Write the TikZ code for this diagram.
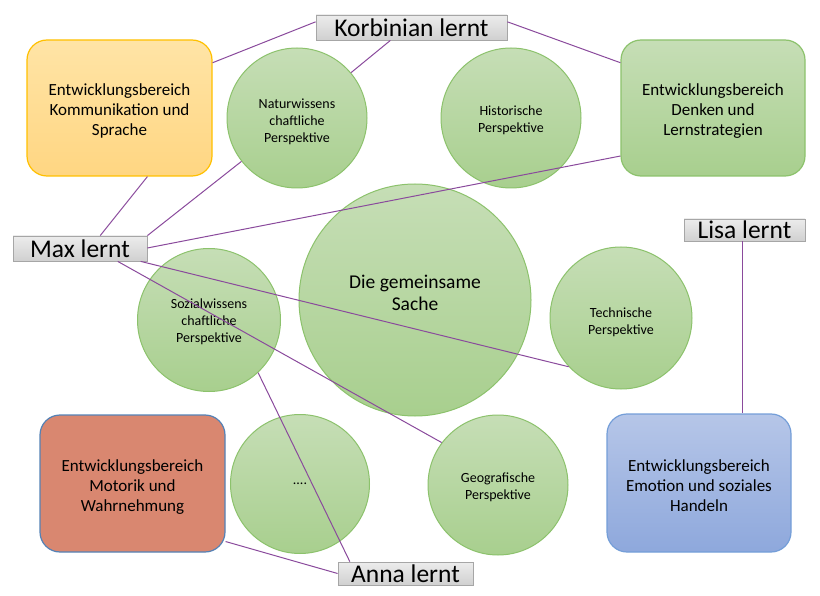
\documentclass[tikz,border=0pt]{standalone}
\usepackage{fontspec}
\setmainfont{Carlito}
\usetikzlibrary{calc}
\definecolor{lnk}{HTML}{8A4A9C}
\definecolor{gtop}{HTML}{C6DEB6}
\definecolor{gbot}{HTML}{A8CF8E}
\definecolor{gbrd}{HTML}{8CC26C}
\newcommand\mytxt[2][0pt]{\raisebox{-#1}[\height][\depth]{\begin{tabular}{@{}c@{}}#2\end{tabular}}}
\tikzset{
  pers/.style={circle, draw=gbrd, line width=1pt, top color=gtop, bottom color=gbot, align=center, inner sep=0pt, font=\fontsize{14}{17}\selectfont},
  bereich/.style={rounded corners=20pt, line width=1.2pt, minimum width=185pt, minimum height=136pt, inner sep=0pt, font=\fontsize{17}{20}\selectfont},
  lernt/.style={draw={rgb,255:red,166;green,166;blue,166}, line width=0.8pt, top color={rgb,255:red,236;green,236;blue,236}, bottom color={rgb,255:red,208;green,208;blue,208}, inner sep=0pt, minimum height=24pt, font=\fontsize{25.5}{26}\selectfont},
  link/.style={draw=lnk, line width=1pt}
}
\begin{document}
\begin{tikzpicture}[x=1pt,y=-1pt]
\useasboundingbox (0,0) rectangle (820,596);
% perspectives
\node[pers, minimum size=140pt] (natur) at (297,118) {\mytxt[4.5pt]{Naturwissens\\chaftliche\\Perspektive}};
\node[pers, minimum size=140pt] (hist) at (511,118) {\mytxt[3pt]{Historische\\Perspektive}};
\node[pers, minimum size=232pt, font=\fontsize{19.5}{22}\selectfont, text depth=14pt] (sache) at (415,300) {Die gemeinsame\\Sache};
\node[pers, minimum size=142pt] (tech) at (621,318) {\mytxt[4.5pt]{Technische\\Perspektive}};
\node[pers, minimum size=143pt] (sozial) at (209,320) {\mytxt[2pt]{Sozialwissens\\chaftliche\\Perspektive}};
\node[pers, minimum size=139pt] (dots) at (300,484) {....};
\node[pers, minimum size=140pt] (geo) at (498,485) {\mytxt[3pt]{Geografische\\Perspektive}};
% Entwicklungsbereiche
\node[bereich, draw={rgb,255:red,255;green,192;blue,0}, top color={rgb,255:red,255;green,228;blue,166}, bottom color={rgb,255:red,255;green,214;blue,130}] (komm) at (119.5,108) {\mytxt[4pt]{Entwicklungsbereich\\Kommunikation und\\Sprache}};
\node[bereich, minimum width=184pt, draw=gbrd, top color=gtop, bottom color=gbot] (denken) at (713,108) {\mytxt[4pt]{Entwicklungsbereich\\Denken und\\Lernstrategien}};
\node[bereich, minimum height=137pt, draw={rgb,255:red,84;green,130;blue,182}, fill={rgb,255:red,217;green,135;blue,112}] (motorik) at (132.5,483.5) {\mytxt[4pt]{Entwicklungsbereich\\Motorik und\\Wahrnehmung}};
\node[bereich, minimum width=184pt, minimum height=138pt, draw={rgb,255:red,116;green,158;blue,216}, top color={rgb,255:red,182;green,198;blue,232}, bottom color={rgb,255:red,142;green,168;blue,220}] (emotion) at (699,483) {\mytxt[4pt]{Entwicklungsbereich\\Emotion und soziales\\Handeln}};
% learners
\node[lernt, minimum width=191pt, minimum height=25pt] (korb) at (411.5,27.5) {Korbinian lernt};
\node[lernt, minimum width=134pt, minimum height=25pt] (max) at (80,248.5) {Max lernt};
\node[lernt, minimum width=135pt, minimum height=23pt] (anna) at (405.5,573.5) {Anna lernt};
\node[lernt, minimum width=121pt, minimum height=22pt] (lisa) at (744.5,230) {Lisa lernt};
% links
\draw[link] ($(korb.north west)!0.28!(korb.south west)$) -- ($(komm.north east)!0.17!(komm.south east)$);
\draw[link] ($(korb.south west)!0.39!(korb.south east)$) -- (natur.40);
\draw[link] ($(korb.north east)!0.28!(korb.south east)$) -- ($(denken.north west)!0.17!(denken.south west)$);
\draw[link] ($(max.north west)!0.65!(max.north east)$) -- ($(komm.south west)!0.65!(komm.south east)$);
\draw[link] (max.north east) -- (natur.218);
\draw[link] ($(max.north east)!0.48!(max.south east)$) -- ($(denken.north west)!0.85!(denken.south west)$);
\draw[link] ($(max.south west)!0.95!(max.south east)$) -- (tech.223);
\draw[link] ($(max.south west)!0.78!(max.south east)$) -- (geo.143);
\draw[link] (sozial.-47) -- ($(anna.north west)!0.09!(anna.north east)$);
\draw[link] ($(motorik.north east)!0.92!(motorik.south east)$) -- (anna.west);
\path (lisa.south) ++(-2,0) coordinate (ls);
\draw[link] (ls) -- (ls |- emotion.north);
\end{tikzpicture}
\end{document}
